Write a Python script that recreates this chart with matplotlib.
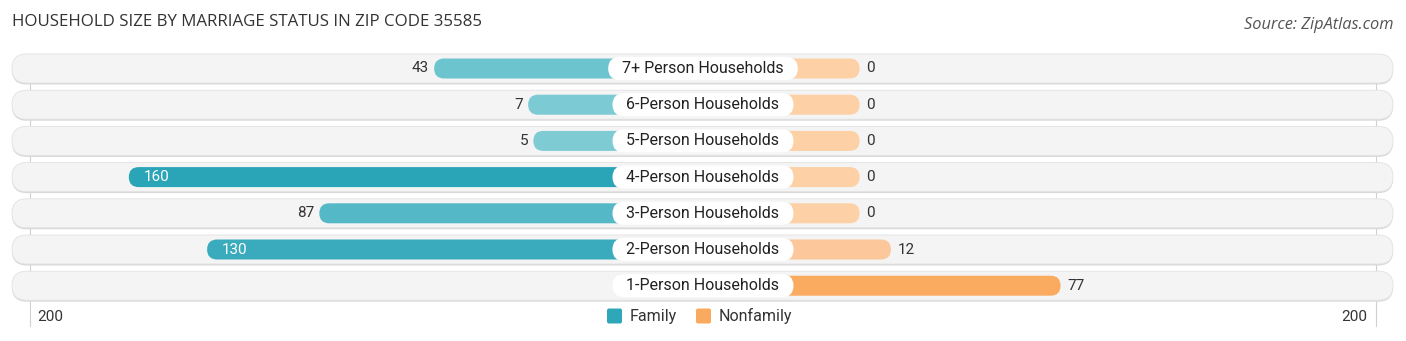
import matplotlib
matplotlib.use("Agg")
import matplotlib.pyplot as plt
from matplotlib.patches import FancyBboxPatch

categories = ["7+ Person Households", "6-Person Households", "5-Person Households",
              "4-Person Households", "3-Person Households", "2-Person Households",
              "1-Person Households"]
family = [43, 7, 5, 160, 87, 130, 0]
nonfamily = [0, 0, 0, 0, 0, 12, 77]
family_colors = ["#6cc4cf", "#7ccad3", "#7ecbd4", "#2aa5b7", "#55b8c6", "#3aabbc", "#8fd2da"]
nonfamily_colors = ["#fdd0a6", "#fdd0a6", "#fdd0a6", "#fdd0a6", "#fdd0a6", "#fcc79a", "#fbab5f"]
axis_max = 200
title = "HOUSEHOLD SIZE BY MARRIAGE STATUS IN ZIP CODE 35585"
source = "Source: ZipAtlas.com"

W, H, DPI = 1406, 341, 100
PX = 2.61          # pixels per value unit
PAD = 60           # bar length reserved under the centre label
ROW_PX = 36.2      # row spacing in pixels
TOP_PX = 68.5      # first row centre

fig = plt.figure(figsize=(W / DPI, H / DPI), dpi=DPI)
ax = fig.add_axes([0, 0, 1, 1])
ax.set_xlim(-W / 2 / PX, W / 2 / PX)
ax.set_ylim((H - TOP_PX) / ROW_PX, -TOP_PX / ROW_PX)
ax.axis("off")

aspect = (1 / ROW_PX) / (1 / PX)   # y units per x unit at equal pixel size
FONT = "Roboto"
renderer = fig.canvas.get_renderer()


def pill(x0, y0, w, h, radius_px, **kw):
    p = FancyBboxPatch((x0, y0), w, h,
                       boxstyle=f"round,pad=0,rounding_size={radius_px / PX}",
                       mutation_aspect=aspect, **kw)
    ax.add_patch(p)
    return p


# scale gridlines
grid_x = 673 / PX
for gx in (-grid_x, grid_x):
    ax.plot([gx, gx], [-0.35, 7.1], color="#d0d0d0", lw=0.8, zorder=0)

bg_left = (12 - W / 2) / PX
bg_w = (1393 - 12) / PX
bg_h = 29 / ROW_PX
bar_h = 20 / ROW_PX
lab_h = 23 / ROW_PX

for i, cat in enumerate(categories):
    # background track with soft shadow
    pill(bg_left, i - bg_h / 2 + 1.5 / ROW_PX, bg_w, bg_h, 14.5,
         facecolor="#d9d9d9", edgecolor="none", zorder=1)
    pill(bg_left, i - bg_h / 2, bg_w, bg_h, 14.5,
         facecolor="#f4f4f4", edgecolor="#e2e2e2", lw=0.6, zorder=2)

    fv = family[i]
    nv = nonfamily[i]
    if fv > 0:
        fl = PAD + fv
        pill(-fl, i - bar_h / 2, fl, bar_h, 10,
             facecolor=family_colors[i], edgecolor="none", zorder=3)
        if fv > 100:
            ax.text(-fl + 15 / PX, i, str(fv), ha="left", va="center",
                    fontsize=11, color="white", family=FONT, zorder=6)
        else:
            ax.text(-fl - 5 / PX, i, str(fv), ha="right", va="center",
                    fontsize=11, color="#333333", family=FONT, zorder=6)
    nl = PAD + nv
    pill(0, i - bar_h / 2, nl, bar_h, 10,
         facecolor=nonfamily_colors[i], edgecolor="none", zorder=3)
    ax.text(nl + 7 / PX, i, str(nv), ha="left", va="center",
            fontsize=11, color="#333333", family=FONT, zorder=6)

    # centre category label on a white pill
    t = ax.text(0, i, cat, ha="center", va="center", fontsize=11.5, color="#222222",
                family=FONT, zorder=7)
    tw = t.get_window_extent(renderer).width
    lw_px = tw + 28
    pill(-lw_px / 2 / PX, i - lab_h / 2, lw_px / PX, lab_h, 11.5,
         facecolor="white", edgecolor="none", zorder=5)

# axis end labels
ax.text(-grid_x + 7 / PX, (317 - TOP_PX) / ROW_PX, str(axis_max), ha="left",
        va="center", fontsize=11, color="#333333", family=FONT)
ax.text(grid_x - 9 / PX, (317 - TOP_PX) / ROW_PX, str(axis_max), ha="right",
        va="center", fontsize=11, color="#333333", family=FONT)

# legend
ly = (316 - TOP_PX) / ROW_PX
sq = 15
for (x0, lab, col) in ((607, "Family", "#2ea8b9"), (696, "Nonfamily", "#f8aa5e")):
    xd = (x0 - W / 2) / PX
    pill(xd, ly - (sq / 2) / ROW_PX, sq / PX, sq / ROW_PX, 2,
         facecolor=col, edgecolor="none", zorder=3)
    ax.text(xd + (sq + 8) / PX, ly, lab, ha="left", va="center",
            fontsize=11.5, color="#333333", family=FONT)

# title and source
fig.text(12 / W, 1 - 22 / H, title, ha="left", va="center",
         fontsize=12.2, color="#333333", family="Open Sans")
fig.text(1393 / W, 1 - 25 / H, source, ha="right", va="center",
         fontsize=11.8, color="#555555", family="Open Sans", style="italic")

fig.savefig("out.png", dpi=DPI)
